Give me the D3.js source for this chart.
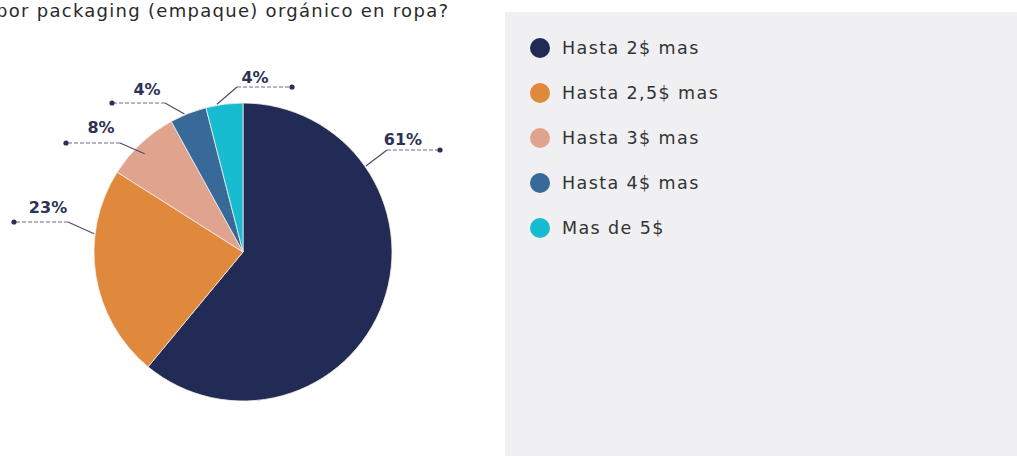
<!DOCTYPE html>
<html>
<head>
<meta charset="utf-8">
<script src="https://cdn.jsdelivr.net/npm/d3@7"></script>
<style>
  html, body { margin: 0; padding: 0; background: #ffffff; }
  svg { display: block; }
</style>
</head>
<body>
<svg id="chart" width="1017" height="456"></svg>
<script>
// Survey answers: how much more people would pay for organic packaging
const categories = ["Hasta 2$ mas", "Hasta 2,5$ mas", "Hasta 3$ mas", "Hasta 4$ mas", "Mas de 5$"];
const shares = [61, 23, 8, 4, 4];
const sliceColors = ["#222b55", "#e0893c", "#e0a48e", "#376a98", "#17bcd1"];
const titleText = "por packaging (empaque) orgánico en ropa?";

const width = 1017, height = 456;
const cx = 243, cy = 252, radius = 149;
const font = "'DejaVu Sans', sans-serif";

const svg = d3.select("#chart");

// Legend panel background
svg.append("rect")
  .attr("x", 505).attr("y", 12)
  .attr("width", width - 505).attr("height", height - 12)
  .attr("fill", "#f0f0f3");

// Question text, continuing from a line above the visible area
svg.append("text")
  .attr("x", -4).attr("y", 17)
  .attr("font-family", font)
  .attr("font-size", 18)
  .attr("textLength", 452)
  .attr("lengthAdjust", "spacing")
  .attr("fill", "#2a2a2a")
  .text(titleText);

const pie = d3.pie().sort(null).value(d => d)
  .startAngle(0).endAngle(2 * Math.PI);
const arcs = pie(shares);
const arc = d3.arc().innerRadius(0).outerRadius(radius);

const g = svg.append("g").attr("transform", `translate(${cx},${cy})`);

g.selectAll("path.slice")
  .data(arcs)
  .join("path")
  .attr("class", "slice")
  .attr("d", arc)
  .attr("fill", (d, i) => sliceColors[i])
  .attr("stroke", "#f4efe8")
  .attr("stroke-width", 0.8);

// Leader line layout: anchor angle on the pie (deg, clockwise from top),
// anchor radius, elbow and end-dot offsets from the pie centre, label offset
const leaderLayout = [
  { angle: 55,  r: 150, elbow: [144, -102], dot: [197, -102], label: [160, -107] },
  { angle: 277, r: 150, elbow: [-175, -30], dot: [-229, -30], label: [-195, -39] },
  { angle: 315, r: 139, elbow: [-123, -109], dot: [-177, -109], label: [-142, -119] },
  { angle: 337, r: 150, elbow: [-78, -149], dot: [-131, -149], label: [-96, -157] },
  { angle: 350, r: 150, elbow: [-6, -165], dot: [49, -165], label: [12, -169] }
];

const rad = a => a * Math.PI / 180;

arcs.forEach((d, i) => {
  const L = leaderLayout[i];
  // anchor stays inside its own slice
  const a = Math.min(Math.max(rad(L.angle), d.startAngle), d.endAngle);
  const ax = L.r * Math.sin(a), ay = -L.r * Math.cos(a);

  g.append("line")
    .attr("x1", ax).attr("y1", ay)
    .attr("x2", L.elbow[0]).attr("y2", L.elbow[1])
    .attr("stroke", "#4a4f63").attr("stroke-width", 1.2);

  g.append("line")
    .attr("x1", L.elbow[0]).attr("y1", L.elbow[1])
    .attr("x2", L.dot[0]).attr("y2", L.dot[1])
    .attr("stroke", "#6a6f82").attr("stroke-width", 1)
    .attr("stroke-dasharray", "4,2");

  g.append("circle")
    .attr("cx", L.dot[0]).attr("cy", L.dot[1])
    .attr("r", 2.6)
    .attr("fill", "#2a3152");

  g.append("text")
    .attr("x", L.label[0]).attr("y", L.label[1])
    .attr("text-anchor", "middle")
    .attr("font-family", font)
    .attr("font-weight", 700)
    .attr("font-size", 16)
    .attr("fill", "#2c3353")
    .text(d.data + "%");
});

// Legend
const legendY = d3.scalePoint().domain(categories).range([48, 228]);
const legend = svg.append("g");
const item = legend.selectAll("g")
  .data(categories)
  .join("g")
  .attr("transform", d => `translate(540,${legendY(d)})`);

item.append("circle")
  .attr("r", 10)
  .attr("fill", (d, i) => sliceColors[i]);

item.append("text")
  .attr("x", 22).attr("y", 6)
  .attr("font-family", font)
  .attr("font-size", 17.5)
  .attr("letter-spacing", 1.4)
  .attr("fill", "#333333")
  .text(d => d);
</script>
</body>
</html>
